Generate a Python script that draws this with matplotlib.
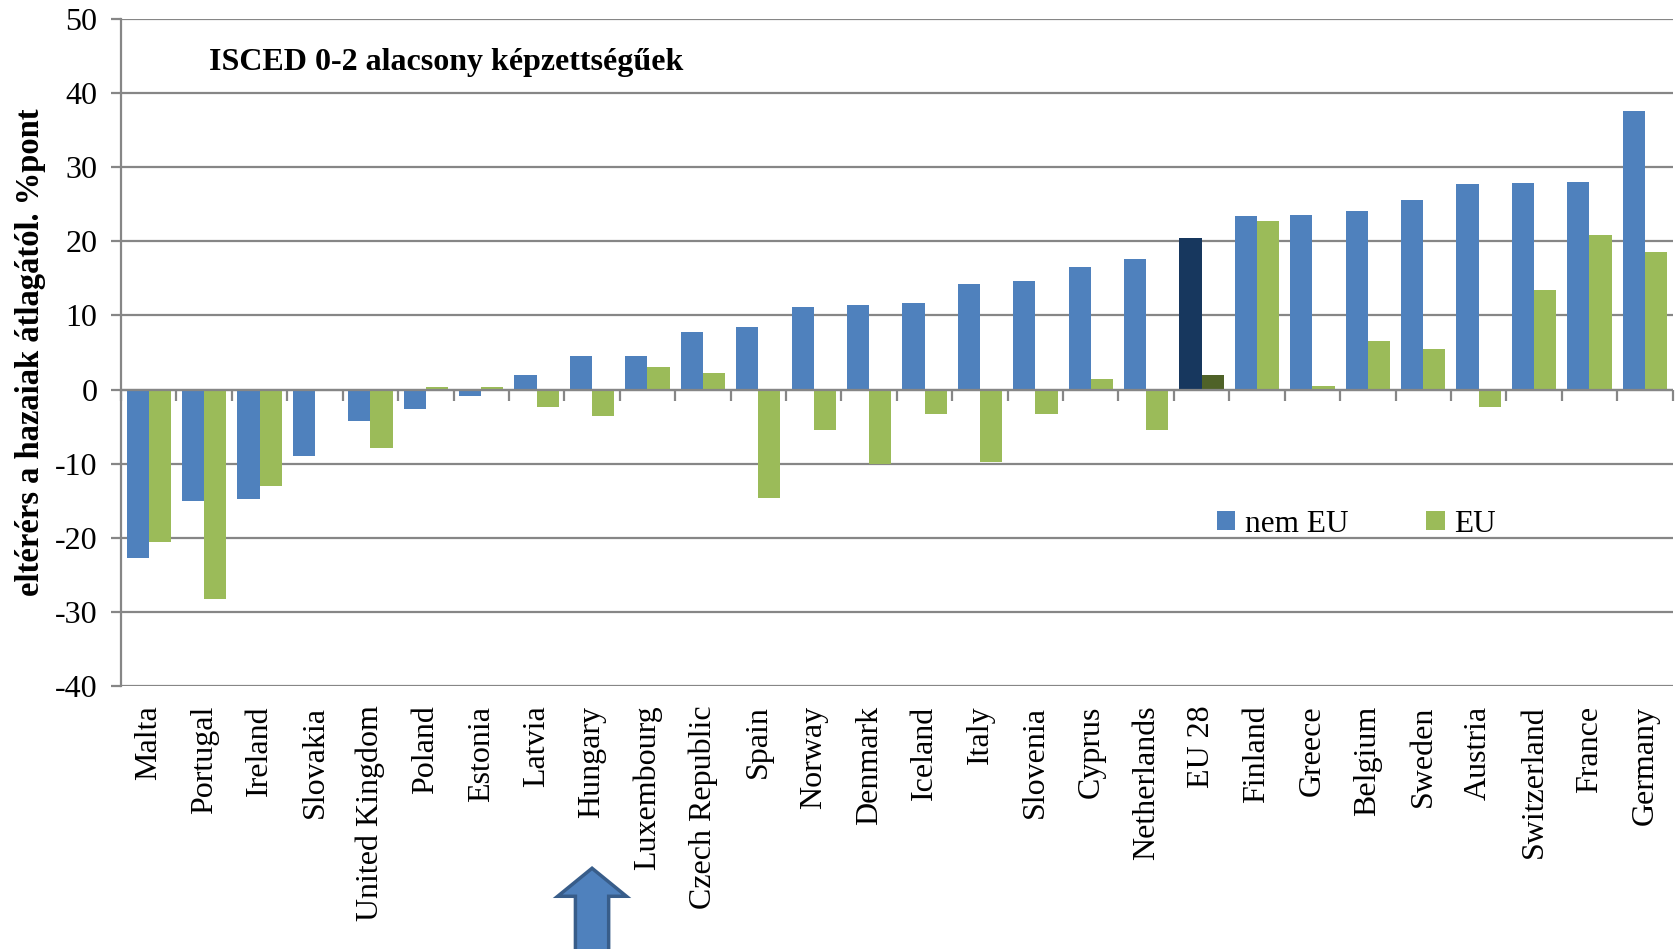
import matplotlib
matplotlib.use("Agg")
import matplotlib.pyplot as plt
import numpy as np
from matplotlib.patches import Polygon
from matplotlib.transforms import blended_transform_factory

countries = ["Malta", "Portugal", "Ireland", "Slovakia", "United Kingdom", "Poland",
             "Estonia", "Latvia", "Hungary", "Luxembourg", "Czech Republic", "Spain",
             "Norway", "Denmark", "Iceland", "Italy", "Slovenia", "Cyprus", "Netherlands",
             "EU 28", "Finland", "Greece", "Belgium", "Sweden", "Austria", "Switzerland",
             "France", "Germany"]
nem_eu = [-22.7, -15.0, -14.7, -9.0, -4.3, -2.6, -0.9, 2.0, 4.5, 4.6, 7.8, 8.5,
          11.1, 11.4, 11.7, 14.3, 14.7, 16.5, 17.6, 20.5, 23.4, 23.6, 24.1, 25.6,
          27.7, 27.9, 28.0, 37.6]
eu = [-20.5, -28.2, -13.0, 0.1, -7.9, 0.4, 0.3, -2.3, -3.6, 3.0, 2.2, -14.6,
      -5.4, -10.0, -3.3, -9.7, -3.3, 1.4, -5.5, 2.0, 22.8, 0.5, 6.5, 5.5,
      -2.4, 13.5, 20.9, 18.6]
yticks = [-40, -30, -20, -10, 0, 10, 20, 30, 40, 50]

plt.rcParams['font.family'] = 'serif'
plt.rcParams['font.serif'] = ['Liberation Serif', 'DejaVu Serif']
plt.rcParams['axes.unicode_minus'] = False

blue, green = "#4F81BD", "#9BBB59"
grid_c = "#868686"

fig = plt.figure(figsize=(16.81, 9.49), dpi=100)
ax = fig.add_axes([0.072, 0.277, 0.923, 0.703])

x = np.arange(len(countries))
w = 0.4
c_blue = [("#17375E" if c == "EU 28" else blue) for c in countries]
c_green = [("#4F6228" if c == "EU 28" else green) for c in countries]
ax.bar(x - w / 2, nem_eu, w, color=c_blue, zorder=3, label="nem EU")
ax.bar(x + w / 2, eu, w, color=c_green, zorder=3, label="EU")

ax.set_xlim(-0.5, len(countries) - 0.5)
ax.set_ylim(-40, 50)
ax.set_yticks(yticks)
ax.set_yticklabels([str(v) for v in yticks], fontsize=23)
ax.yaxis.grid(True, color=grid_c, lw=1.6, zorder=0)
ax.axhline(0, color=grid_c, lw=1.6, zorder=4)
for s in ["top", "right", "bottom"]:
    ax.spines[s].set_visible(False)
ax.spines["left"].set_color(grid_c)
ax.spines["left"].set_linewidth(1.6)
ax.tick_params(axis="y", color=grid_c, width=1.6, length=7, pad=10)

ax.set_xticks(x)
ax.set_xticklabels(countries, rotation=90, fontsize=23, va="top")
ax.tick_params(axis="x", length=0, pad=14)

# category boundary ticks on the zero line
sec = ax.secondary_xaxis(40 / 90)
sec.set_xticks(np.arange(len(countries) + 1) - 0.5)
sec.set_xticklabels([])
sec.tick_params(axis="x", color=grid_c, width=1.6, length=8, direction="out")
sec.spines["bottom"].set_visible(False)

ax.set_ylabel("eltérérs a hazaiak átlagától. %pont", fontsize=23.5, fontweight="bold", labelpad=6)
ax.text(0.057, 0.935, "ISCED 0-2 alacsony képzettségűek", transform=ax.transAxes,
        fontsize=23, fontweight="bold", va="center")

ax.legend(loc="center left", bbox_to_anchor=(0.688, 0.243), ncol=2, frameon=False,
          fontsize=22.5, handlelength=0.6, handleheight=0.6, handletextpad=0.3,
          columnspacing=2.5)

# arrow pointing to Hungary
hu = countries.index("Hungary")
tr = blended_transform_factory(ax.transData, ax.transAxes)
arrow = Polygon([(hu - 0.3, -0.40), (hu - 0.3, -0.315), (hu - 0.62, -0.315),
                 (hu, -0.273), (hu + 0.62, -0.315), (hu + 0.3, -0.315), (hu + 0.3, -0.40)],
                closed=True, transform=tr, clip_on=False, facecolor=blue,
                edgecolor="#385D8A", lw=2.5)
ax.add_patch(arrow)

fig.savefig("out.png", dpi=100)
